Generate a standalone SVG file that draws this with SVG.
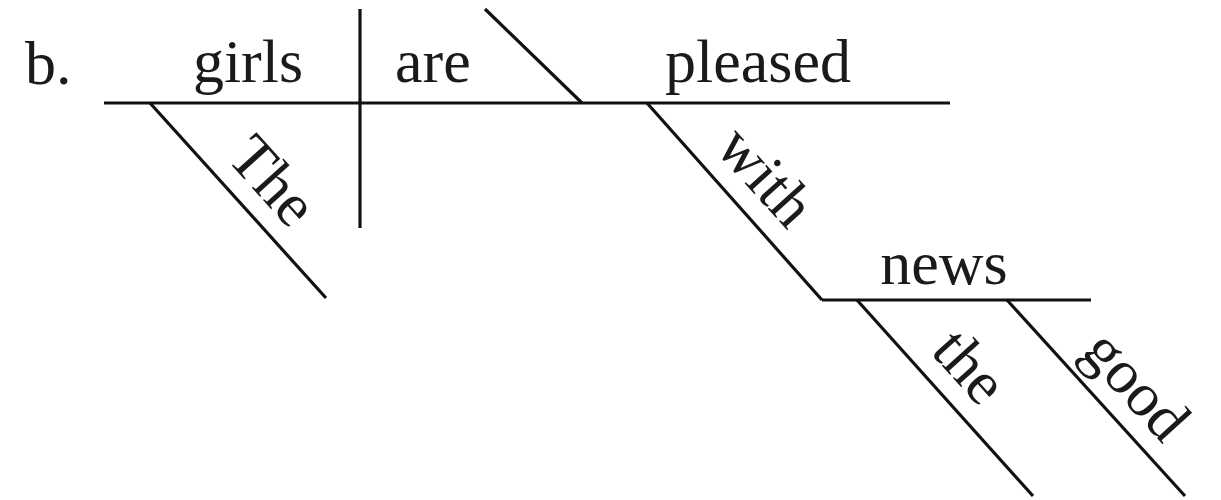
<svg xmlns="http://www.w3.org/2000/svg" width="1221" height="500" viewBox="0 0 1221 500">
<style>
  .ln { stroke: #111; stroke-width: 3.2; fill: none; stroke-linecap: butt; }
  .t { font-family: "Liberation Serif", "Times New Roman", serif; font-size: 62px; fill: #1a1a1a; }
</style>
<rect width="1221" height="500" fill="#ffffff"/>
<g id="connectors">
  <line class="ln" x1="104" y1="103" x2="950" y2="103"/>
  <line class="ln" x1="360" y1="9" x2="360" y2="228"/>
  <line class="ln" x1="485" y1="9" x2="582" y2="103"/>
  <line class="ln" x1="150" y1="103" x2="326" y2="298"/>
  <line class="ln" x1="647" y1="103" x2="822" y2="300"/>
  <line class="ln" x1="822" y1="300" x2="1091" y2="300"/>
  <line class="ln" x1="857" y1="300" x2="1033" y2="496"/>
  <line class="ln" x1="1007" y1="300" x2="1185" y2="496"/>
</g>
<g id="label-b"><text class="t" x="25" y="84">b.</text></g>
<g id="node-girls"><text class="t" x="248" y="82" text-anchor="middle">girls</text></g>
<g id="node-are"><text class="t" x="395" y="82">are</text></g>
<g id="node-pleased"><text class="t" x="665" y="82">pleased</text></g>
<g id="node-the-upper"><text class="t" text-anchor="middle" transform="translate(150,103) rotate(48)" x="140" y="-19">The</text></g>
<g id="node-with"><text class="t" text-anchor="middle" transform="translate(647,103) rotate(48)" x="134" y="-19">with</text></g>
<g id="node-news"><text class="t" x="944" y="284" text-anchor="middle">news</text></g>
<g id="node-the"><text class="t" text-anchor="middle" transform="translate(857,300) rotate(48)" x="125" y="-19">the</text></g>
<g id="node-good"><text class="t" text-anchor="middle" transform="translate(1007,300) rotate(48)" x="150" y="-19">good</text></g>
</svg>
